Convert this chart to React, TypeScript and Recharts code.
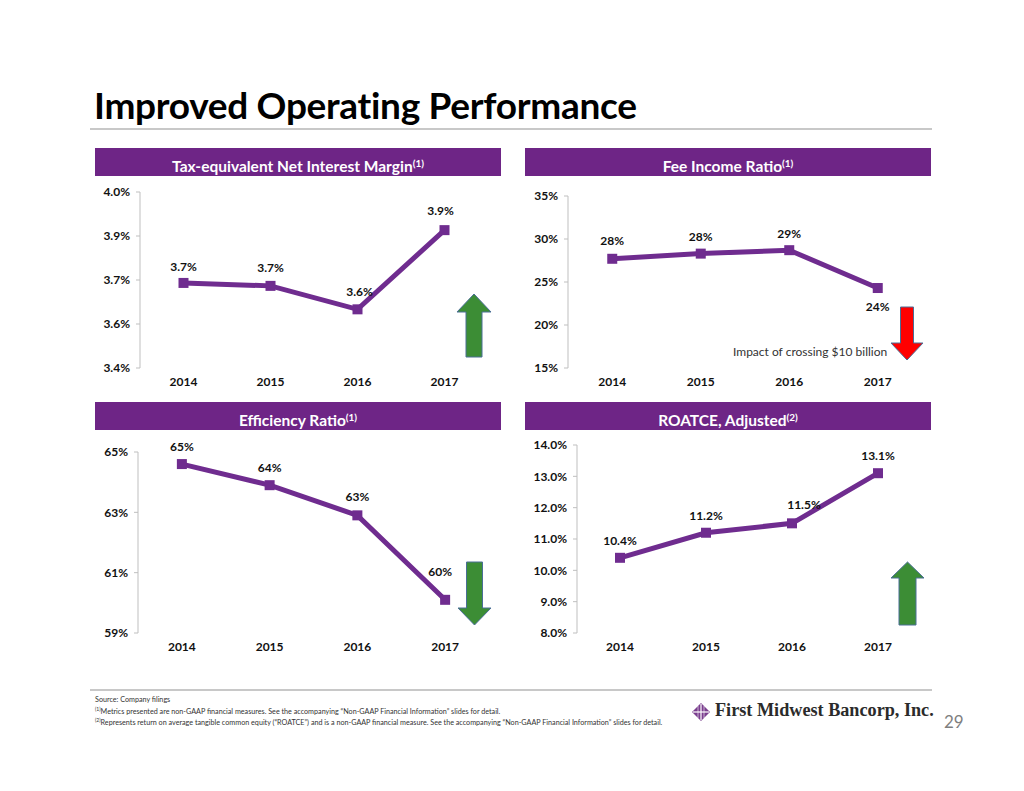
import React from "react";
import { LineChart, Line, XAxis, YAxis, LabelList } from "recharts";

const YEARS = ["2014", "2015", "2016", "2017"];

const NIM_VALUES = [3.69, 3.68, 3.6, 3.87];
const NIM_TICKS = [3.4, 3.55, 3.7, 3.85, 4.0];
const NIM_TICK_LABELS = ["3.4%", "3.6%", "3.7%", "3.9%", "4.0%"];

const FEE_VALUES = [27.7, 28.3, 28.7, 24.3];
const FEE_TICKS = [15, 20, 25, 30, 35];
const FEE_TICK_LABELS = ["15%", "20%", "25%", "30%", "35%"];

const EFF_VALUES = [64.6, 63.9, 62.9, 60.1];
const EFF_TICKS = [59, 61, 63, 65];
const EFF_TICK_LABELS = ["59%", "61%", "63%", "65%"];

const ROATCE_VALUES = [10.4, 11.2, 11.5, 13.1];
const ROATCE_TICKS = [8, 9, 10, 11, 12, 13, 14];
const ROATCE_TICK_LABELS = ["8.0%", "9.0%", "10.0%", "11.0%", "12.0%", "13.0%", "14.0%"];

const FONT = "Lato, 'Open Sans', sans-serif";
const PURPLE_HEAD = "#6E2586";
const PURPLE_LINE = "#6F2C8F";
const AXIS_GRAY = "#bfbfbf";
const GREEN = "#3C8D35";
const RED = "#FF0000";
const ARROW_EDGE = "#4A6E96";

interface PanelProps {
  left: number;
  top: number;
  plotWidth: number;
  plotHeight: number;
  values: number[];
  ticks: number[];
  tickLabels: string[];
  decimals: number;
  labelDy: number[];
  labelDx?: number[];
}

function Panel({
  left,
  top,
  plotWidth,
  plotHeight,
  values,
  ticks,
  tickLabels,
  decimals,
  labelDy,
  labelDx,
}: PanelProps) {
  const data = YEARS.map((year, i) => ({ year, value: values[i] }));
  const yWidth = 60;
  const margin = { top: 20, right: 20, left: 0, bottom: 0 };
  const xHeight = 30;
  const pad = plotWidth / 8;

  const renderLabel = (props: any) => {
    const { x, y, value, index } = props;
    return (
      <text
        x={Number(x) + (labelDx ? labelDx[index] : 0)}
        y={Number(y) + labelDy[index]}
        textAnchor="middle"
        fontFamily={FONT}
        fontWeight={700}
        fontSize={12}
        fill="#111"
      >
        {Number(value).toFixed(decimals) + "%"}
      </text>
    );
  };

  const renderDot = (props: any) => {
    const { cx, cy, index } = props;
    return (
      <rect
        key={"d" + index}
        x={cx - 5}
        y={cy - 5}
        width={10}
        height={10}
        fill={PURPLE_LINE}
      />
    );
  };

  return (
    <div style={{ position: "absolute", left, top }}>
      <LineChart
        width={yWidth + plotWidth + margin.right}
        height={margin.top + plotHeight + xHeight}
        data={data}
        margin={margin}
      >
        <XAxis
          xAxisId="grid"
          type="number"
          domain={[0, 4]}
          ticks={[0, 1, 2, 3, 4]}
          tick={false}
          height={0}
          axisLine={{ stroke: AXIS_GRAY }}
          tickLine={{ stroke: AXIS_GRAY }}
          tickSize={5}
        />
        <XAxis
          xAxisId="cat"
          dataKey="year"
          padding={{ left: pad, right: pad }}
          axisLine={false}
          tickLine={false}
          tickSize={0}
          tickMargin={9}
          height={xHeight}
          tick={{ fontFamily: FONT, fontWeight: 700, fontSize: 12, fill: "#111" }}
        />
        <YAxis
          width={yWidth}
          domain={[ticks[0], ticks[ticks.length - 1]]}
          ticks={ticks}
          interval={0}
          tickFormatter={(v: number) => tickLabels[ticks.indexOf(v)] ?? ""}
          axisLine={{ stroke: AXIS_GRAY }}
          tickLine={{ stroke: AXIS_GRAY }}
          tickSize={4}
          tickMargin={6}
          tick={{ fontFamily: FONT, fontWeight: 700, fontSize: 12, fill: "#111" }}
        />
        <Line
          xAxisId="cat"
          dataKey="value"
          stroke={PURPLE_LINE}
          strokeWidth={5}
          dot={renderDot}
          activeDot={false}
          isAnimationActive={false}
        >
          <LabelList dataKey="value" content={renderLabel} />
        </Line>
      </LineChart>
    </div>
  );
}

function Header({ left, top, text, note }: { left: number; top: number; text: string; note: string }) {
  return (
    <div
      style={{
        position: "absolute",
        left,
        top,
        width: 406,
        height: 28,
        background: PURPLE_HEAD,
        color: "#fff",
        fontFamily: FONT,
        fontWeight: 700,
        fontSize: 15.5,
        lineHeight: "28px",
        textAlign: "center",
      }}
    >
      {text}
      <sup style={{ fontSize: 10, position: "relative", top: 1 }}>{note}</sup>
    </div>
  );
}

function Arrow({
  left,
  top,
  width,
  height,
  headHeight,
  shaftWidth,
  up,
  color,
}: {
  left: number;
  top: number;
  width: number;
  height: number;
  headHeight: number;
  shaftWidth: number;
  up: boolean;
  color: string;
}) {
  const s0 = (width - shaftWidth) / 2;
  const s1 = s0 + shaftWidth;
  const pts = up
    ? [
        [width / 2, 0],
        [width, headHeight],
        [s1, headHeight],
        [s1, height],
        [s0, height],
        [s0, headHeight],
        [0, headHeight],
      ]
    : [
        [s0, 0],
        [s1, 0],
        [s1, height - headHeight],
        [width, height - headHeight],
        [width / 2, height],
        [0, height - headHeight],
        [s0, height - headHeight],
      ];
  return (
    <svg
      style={{ position: "absolute", left: left - 1, top: top - 1 }}
      width={width + 2}
      height={height + 2}
    >
      <polygon
        transform="translate(1,1)"
        points={pts.map((p) => p.join(",")).join(" ")}
        fill={color}
        stroke={ARROW_EDGE}
        strokeWidth={1}
      />
    </svg>
  );
}

function Logo() {
  return (
    <svg style={{ position: "absolute", left: 692, top: 703 }} width={18} height={18}>
      <polygon points="9,0 18,9 9,18 0,9" fill="#7A3E8E" />
      <line x1="9" y1="1" x2="9" y2="17" stroke="#fff" strokeWidth={1.2} />
      <line x1="1" y1="9" x2="17" y2="9" stroke="#fff" strokeWidth={1.2} />
      <line x1="6" y1="3" x2="6" y2="15" stroke="#fff" strokeWidth={0.6} />
      <line x1="12" y1="3" x2="12" y2="15" stroke="#fff" strokeWidth={0.6} />
    </svg>
  );
}

export default function App() {
  return (
    <div
      style={{
        position: "absolute",
        left: 0,
        top: 0,
        width: 1024,
        height: 791,
        background: "#fff",
        overflow: "hidden",
        fontFamily: FONT,
      }}
    >
      <div
        style={{
          position: "absolute",
          left: 94,
          top: 82,
          fontSize: 37,
          fontWeight: 700,
          color: "#000",
          letterSpacing: -0.3,
          whiteSpace: "nowrap",
        }}
      >
        Improved Operating Performance
      </div>
      <div style={{ position: "absolute", left: 90, top: 128, width: 842, height: 2, background: "#c8c8c8" }} />

      <Header left={95} top={148} text="Tax-equivalent Net Interest Margin" note="(1)" />
      <Header left={525} top={148} text="Fee Income Ratio" note="(1)" />
      <Header left={95} top={402} text="Efficiency Ratio" note="(1)" />
      <Header left={525} top={402} text="ROATCE, Adjusted" note="(2)" />

      <Panel
        left={80}
        top={172}
        plotWidth={348}
        plotHeight={176}
        values={NIM_VALUES}
        ticks={NIM_TICKS}
        tickLabels={NIM_TICK_LABELS}
        decimals={1}
        labelDy={[-12, -14, -13, -15]}
        labelDx={[0, 0, 2, -4]}
      />
      <Panel
        left={508}
        top={176}
        plotWidth={354}
        plotHeight={172}
        values={FEE_VALUES}
        ticks={FEE_TICKS}
        tickLabels={FEE_TICK_LABELS}
        decimals={0}
        labelDy={[-14, -13, -12, 23]}
      />
      <Panel
        left={78}
        top={432}
        plotWidth={351}
        plotHeight={181}
        values={EFF_VALUES}
        ticks={EFF_TICKS}
        tickLabels={EFF_TICK_LABELS}
        decimals={0}
        labelDy={[-13, -13, -14, -24]}
        labelDx={[0, 0, 0, -5]}
      />
      <Panel
        left={517}
        top={425}
        plotWidth={344}
        plotHeight={188}
        values={ROATCE_VALUES}
        ticks={ROATCE_TICKS}
        tickLabels={ROATCE_TICK_LABELS}
        decimals={1}
        labelDy={[-13, -13, -14, -13]}
        labelDx={[0, 0, 12, 0]}
      />

      <Arrow left={457} top={294} width={34} height={63} headHeight={18} shaftWidth={16} up={true} color={GREEN} />
      <Arrow left={891} top={307} width={32} height={53} headHeight={17} shaftWidth={13} up={false} color={RED} />
      <Arrow left={458} top={562} width={33} height={63} headHeight={17} shaftWidth={16} up={false} color={GREEN} />
      <Arrow left={891} top={562} width={33} height={63} headHeight={16} shaftWidth={17} up={true} color={GREEN} />

      <div
        style={{
          position: "absolute",
          left: 733,
          top: 344,
          fontSize: 12,
          color: "#333",
          whiteSpace: "nowrap",
        }}
      >
        Impact of crossing $10 billion
      </div>

      <div style={{ position: "absolute", left: 90, top: 689, width: 842, height: 2, background: "#c8c8c8" }} />
      <div
        style={{
          position: "absolute",
          left: 95,
          top: 695,
          fontSize: 7.2,
          lineHeight: "9.5px",
          color: "#333",
          whiteSpace: "nowrap",
        }}
      >
        <div>Source: Company filings</div>
        <div>
          <sup style={{ fontSize: 5 }}>(1)</sup>Metrics presented are non-GAAP financial measures. See the accompanying
          “Non-GAAP Financial Information” slides for detail.
        </div>
        <div>
          <sup style={{ fontSize: 5 }}>(2)</sup>Represents return on average tangible common equity (“ROATCE”) and is a
          non-GAAP financial measure. See the accompanying “Non-GAAP Financial Information” slides for detail.
        </div>
      </div>

      <Logo />
      <div
        style={{
          position: "absolute",
          left: 715,
          top: 700,
          fontFamily: "'Liberation Serif', 'DejaVu Serif', serif",
          fontWeight: 700,
          fontSize: 18.2,
          color: "#2b2b2b",
          whiteSpace: "nowrap",
        }}
      >
        First Midwest Bancorp, Inc.
      </div>
      <div
        style={{
          position: "absolute",
          left: 944,
          top: 711,
          fontSize: 17,
          color: "#7f7f7f",
        }}
      >
        29
      </div>
    </div>
  );
}
